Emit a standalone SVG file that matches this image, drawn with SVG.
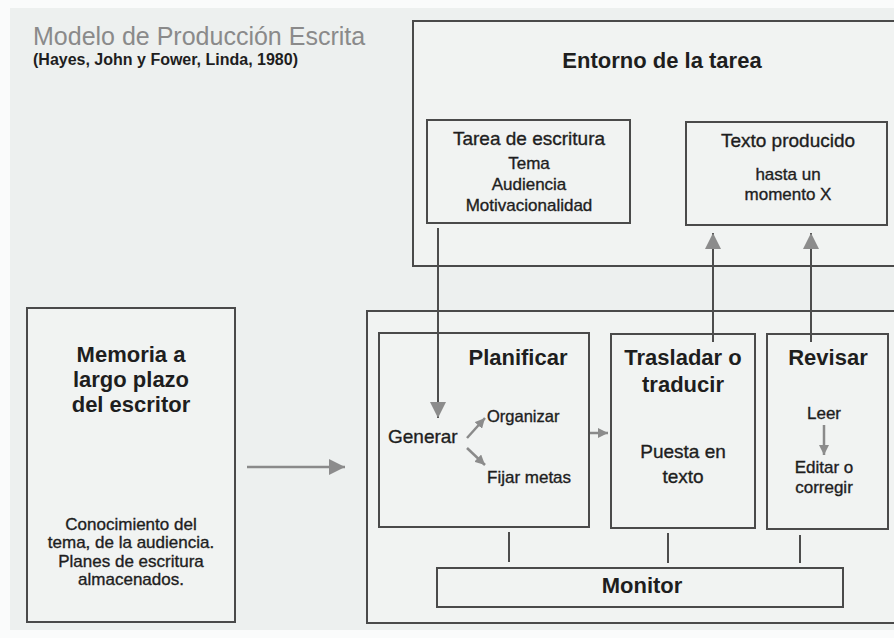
<svg xmlns="http://www.w3.org/2000/svg" width="894" height="638" viewBox="0 0 894 638">
<defs>
<style>
text{font-family:"Liberation Sans",Arial,sans-serif;fill:#1e1e1e}
.r{stroke:#1e1e1e;stroke-width:0.35}
.h{font-weight:bold;font-size:22px;text-anchor:middle}
.s{font-size:17px;text-anchor:middle;stroke:#1e1e1e;stroke-width:0.35}
.m{font-size:19px;text-anchor:middle;stroke:#1e1e1e;stroke-width:0.35}
.box{fill:#f1f3f2;stroke:#4a4a4a;stroke-width:2}
.con{stroke:#4d4d4d;stroke-width:2;fill:none}
.gcon{stroke:#8a8a8a;stroke-width:2.5;fill:none}
</style>
<marker id="big" viewBox="0 0 10 10" refX="10" refY="5" markerUnits="userSpaceOnUse" markerWidth="16" markerHeight="18" orient="auto"><path d="M0,0 L10,5 L0,10 z" fill="#8c8c8c"/></marker>
<marker id="sm" viewBox="0 0 10 10" refX="10" refY="5" markerUnits="userSpaceOnUse" markerWidth="10" markerHeight="10" orient="auto"><path d="M0,0 L10,5 L0,10 z" fill="#8c8c8c"/></marker>
</defs>
<rect x="0" y="0" width="894" height="638" fill="#fafbfb"/>
<rect x="10" y="8" width="884" height="622" fill="#edf0ef"/>

<g id="title">
<text x="33" y="45" style="font-size:25px;fill:#8a8a8a">Modelo de Producción Escrita</text>
<text x="33" y="65" style="font-size:16px;font-weight:bold">(Hayes, John y Fower, Linda, 1980)</text>
</g>

<g id="entorno">
<rect class="box" x="413" y="21" width="500" height="245"/>
<text class="h" x="662" y="68">Entorno de la tarea</text>
</g>
<g id="tarea">
<rect class="box" x="427" y="120" width="203" height="103"/>
<text class="m" x="529" y="145">Tarea de escritura</text>
<text class="s" x="529" y="169">Tema</text>
<text class="s" x="529" y="190">Audiencia</text>
<text class="s" x="529" y="211">Motivacionalidad</text>
</g>
<g id="texto">
<rect class="box" x="686" y="122" width="201" height="103"/>
<text class="m" x="788" y="147">Texto producido</text>
<text class="s" x="788" y="180">hasta un</text>
<text class="s" x="788" y="200">momento X</text>
</g>

<g id="memoria">
<rect class="box" x="27" y="308" width="208" height="314"/>
<text class="h" x="131" y="362">Memoria a</text>
<text class="h" x="131" y="387">largo plazo</text>
<text class="h" x="131" y="412">del escritor</text>
<text class="s" x="131" y="530">Conocimiento del</text>
<text class="s" x="131" y="548">tema, de la audiencia.</text>
<text class="s" x="131" y="567">Planes de escritura</text>
<text class="s" x="131" y="585">almacenados.</text>
</g>

<g id="proceso">
<rect class="box" x="367" y="311" width="546" height="312"/>
</g>
<g id="planificar">
<rect class="box" x="379" y="333" width="210" height="194"/>
<text class="h" x="518" y="365">Planificar</text>
<text class="r" x="388" y="443" style="font-size:19px">Generar</text>
<text class="r" x="487" y="422" style="font-size:16.5px">Organizar</text>
<text class="r" x="487" y="483" style="font-size:17px">Fijar metas</text>
</g>
<g id="trasladar">
<rect class="box" x="611" y="334" width="144" height="194"/>
<text class="h" x="683" y="365">Trasladar o</text>
<text class="h" x="683" y="392">traducir</text>
<text class="m" x="683" y="458">Puesta en</text>
<text class="m" x="683" y="483">texto</text>
</g>
<g id="revisar">
<rect class="box" x="767" y="334" width="121" height="195"/>
<text class="h" x="828" y="365">Revisar</text>
<text class="s" x="824" y="419">Leer</text>
<text class="s" x="824" y="473">Editar o</text>
<text class="s" x="824" y="493">corregir</text>
</g>
<g id="monitor">
<rect class="box" x="437" y="568" width="406" height="39"/>
<text class="h" x="642" y="593">Monitor</text>
</g>

<g id="connectors">
<line class="con" x1="438" y1="228" x2="438" y2="418" marker-end="url(#big)"/>
<line class="con" x1="713" y1="342" x2="713" y2="233" marker-end="url(#big)"/>
<line class="con" x1="811" y1="342" x2="811" y2="233" marker-end="url(#big)"/>
<line class="gcon" x1="247" y1="467" x2="345" y2="467" marker-end="url(#big)"/>
<line class="gcon" x1="467" y1="438" x2="485" y2="418" marker-end="url(#sm)"/>
<line class="gcon" x1="467" y1="448" x2="485" y2="465" marker-end="url(#sm)"/>
<line class="gcon" x1="590" y1="433" x2="608" y2="433" marker-end="url(#sm)"/>
<line class="gcon" x1="824" y1="425" x2="824" y2="455" marker-end="url(#sm)"/>
<line class="con" x1="509" y1="532" x2="509" y2="562"/>
<line class="con" x1="668" y1="533" x2="668" y2="563"/>
<line class="con" x1="800" y1="535" x2="800" y2="563"/>
</g>
</svg>
